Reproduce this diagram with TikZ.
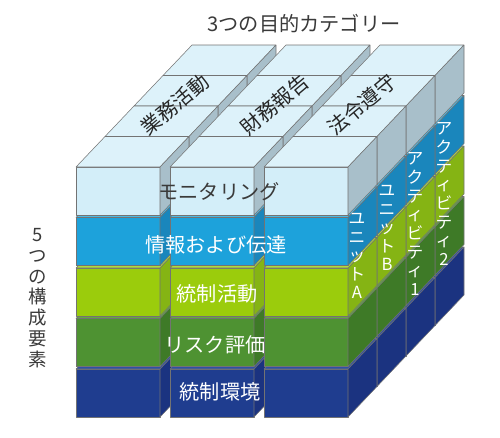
\documentclass[tikz,border=0pt]{standalone}
\usepackage{fontspec}
\setmainfont{Noto Sans CJK JP}
\usetikzlibrary{calc}

\definecolor{monF}{HTML}{D3EEF9}
\definecolor{monT}{HTML}{DDF2FA}
\definecolor{monS}{HTML}{A8BFCA}
\definecolor{infoF}{HTML}{1DA2DB}
\definecolor{infoT}{HTML}{4DB9E4}
\definecolor{infoS}{HTML}{1A86BC}
\definecolor{actF}{HTML}{9BCC0C}
\definecolor{actT}{HTML}{B2DB3B}
\definecolor{actS}{HTML}{85B414}
\definecolor{riskF}{HTML}{4E9232}
\definecolor{riskT}{HTML}{63A843}
\definecolor{riskS}{HTML}{3E7A27}
\definecolor{envF}{HTML}{1F3D8F}
\definecolor{envT}{HTML}{3050A6}
\definecolor{envS}{HTML}{1B3380}
\definecolor{textgray}{HTML}{3A3A3A}

\begin{document}
\begin{tikzpicture}[x=0.02cm,y=-0.02cm]
      \tikzset{block edge/.style={draw=black!55,
          line width=0.3pt,
          line join=round},
        front label/.style={font=\fontsize{11.5}{13}\selectfont,
          text=white, inner sep=0pt},
        side label/.style={font=\fontsize{9.5}{10.6}\selectfont,
          text=white, align=center, inner sep=0pt},
        top label/.style={font=\fontsize{11.5}{13}\selectfont,
          text=black!85, rotate=40, inner sep=0pt}
      }
      \useasboundingbox (0,0) rectangle (500,437);
      \foreach \s in {3,2,1,0}{
        \foreach \l/\cl in {4/env,3/risk,2/act,1/info,0/mon}{
          \foreach \c in {0,1,2}{
            \pgfmathsetmacro{\xa}{76+94*\c+29*\s}
            \pgfmathsetmacro{\ya}{167+50.5*\l-30.5*\s}
            \filldraw [block edge, fill=\cl F] (\xa,\ya) rectangle ++(84,48);
            \filldraw [block edge, fill=\cl T] (\xa,\ya) -- ++(29,-30.5) -- ++(84,0) -- ++(-29,30.5) -- cycle;
            \filldraw [block edge, fill=\cl S] (\xa+84,\ya) -- ++(29,-30.5) -- ++(0,48) -- ++(-29,30.5) -- cycle;
          }
        }
      }

      \node [font=\fontsize{11.5}{13}\selectfont, text=textgray] (cat-title) at (304,24) {3つの目的カテゴリー};
      \node [font=\fontsize{10.5}{11.8}\selectfont, text=textgray, align=center] (comp-title) at (38,298) {5\\つ\\の\\構\\成\\要\\素};

      \node [top label] (ops) at (175,105) {業務活動};
      \node [top label] (fin) at (275,105) {財務報告};
      \node [top label] (law) at (362,105) {法令遵守};

      \node [front label, text=textgray] (mon) at (219,192) {モニタリング};
      \node [front label] (info) at (216,245) {情報および伝達};
      \node [front label] (act) at (217,294) {統制活動};
      \node [front label] (risk) at (215,345) {リスク評価};
      \node [front label] (env) at (220,392) {統制環境};

      \node [side label] (unitA) at (357,256) {ユ\\ニ\\ッ\\ト\\A};
      \node [side label] (unitB) at (387,228) {ユ\\ニ\\ッ\\ト\\B};
      \node [side label] (actv1) at (415,224) {ア\\ク\\テ\\ィ\\ビ\\テ\\ィ\\1};
      \node [side label] (actv2) at (444,194) {ア\\ク\\テ\\ィ\\ビ\\テ\\ィ\\2};

    \end{tikzpicture}
\end{document}
